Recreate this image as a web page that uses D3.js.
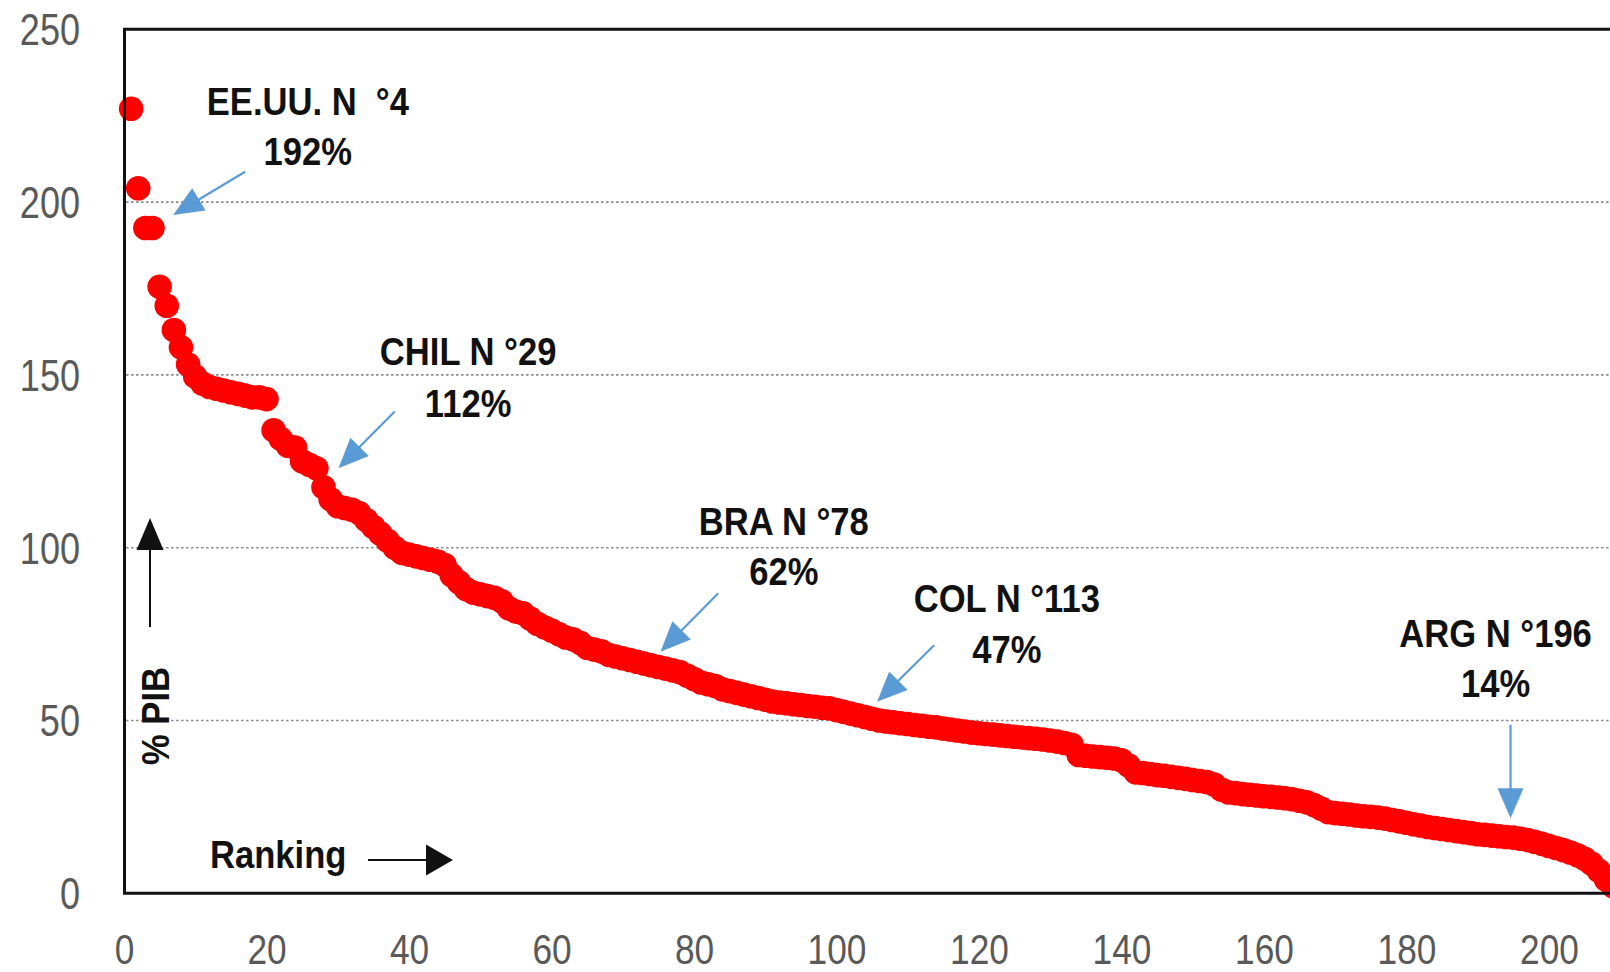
<!DOCTYPE html>
<html>
<head>
<meta charset="utf-8">
<script src="https://cdnjs.cloudflare.com/ajax/libs/d3/7.8.5/d3.min.js"></script>
<style>
  html, body { margin: 0; padding: 0; background: #fff; }
  svg { display: block; }
</style>
</head>
<body>
<svg id="chart" width="1610" height="972"></svg>
<script>
// ---- data ----
const debtValues = [
  227, 204, 192.5, 192.5, 175.5, 170, 163, 158, 153, 149.5,
  147.5, 146.5, 146, 145.5, 145, 144.5, 144, 143.5, 143.5, 143,
  134, 131.5, 129.5, 129, 125, 124, 123, 117.5, 114, 112,
  111.5, 111, 110, 108, 106, 104, 102, 100, 98.5, 98,
  97.5, 97, 96.5, 96, 95, 92, 90, 88, 87, 86.5,
  86, 85.5, 84.5, 82.5, 81.5, 81, 79.5, 78, 77, 76,
  75, 74, 73.5, 72.5, 71, 70.5, 70, 69, 68.5, 68,
  67.5, 67, 66.5, 66, 65.5, 65, 64.5, 64, 63, 62,
  61, 60.5, 60, 59, 58.5, 58, 57.5, 57, 56.5, 56,
  55.5, 55.2, 55, 54.7, 54.5, 54.2, 54, 53.7, 53.5, 53,
  52.5, 52, 51.5, 51, 50.5, 50, 49.7, 49.5, 49.2, 49,
  48.7, 48.5, 48.2, 48, 47.7, 47.4, 47.1, 46.8, 46.5, 46.3,
  46.1, 45.9, 45.7, 45.5, 45.3, 45.1, 44.9, 44.7, 44.5, 44.2,
  43.9, 43.5, 43, 40, 39.8, 39.6, 39.4, 39.2, 39, 38.5,
  37, 35, 34.8, 34.5, 34.2, 34, 33.7, 33.4, 33.1, 32.8,
  32.5, 32.2, 31.5, 30, 29.2, 29, 28.7, 28.5, 28.3, 28.1,
  27.9, 27.7, 27.5, 27.2, 26.8, 26.3, 25.5, 24.5, 23.5, 23.2,
  23, 22.8, 22.5, 22.3, 22.1, 21.9, 21.6, 21.2, 20.8, 20.4,
  20, 19.6, 19.2, 18.9, 18.6, 18.3, 18, 17.7, 17.4, 17.1,
  16.9, 16.7, 16.5, 16.3, 16.1, 15.8, 15.4, 14.9, 14.3, 13.7,
  13.1, 12.5, 11.8, 11, 10, 8.5, 6.5, 4, 2, 0.5
];

const xTickValues = [0, 20, 40, 60, 80, 100, 120, 140, 160, 180, 200];
const yTickValues = [0, 50, 100, 150, 200, 250];
const gridValues = [50, 100, 150, 200];

// annotations: label, percent text, text anchor (rank, value), arrow start and tip (rank, value)
const annTitles = ["EE.UU. N  \u00B04", "CHIL N \u00B029", "BRA N \u00B078", "COL N \u00B0113", "ARG N \u00B0196"];
const annPercents = ["192%", "112%", "62%", "47%", "14%"];
const annTextRank = [25.8, 48.3, 92.6, 123.9, 192.5];
const annTitleValue = [225.2, 152.9, 103.7, 81.5, 71.4];
const annPctValue = [210.7, 137.9, 89.2, 66.6, 56.9];
const annArrowFrom = [[17.0, 208.8], [38.0, 139.4], [83.4, 86.8], [113.7, 71.8], [194.6, 48.7]];
const annArrowTip = [[6.9, 196.3], [30.1, 123.0], [75.3, 69.9], [105.7, 55.4], [194.6, 21.7]];

// ---- layout ----
const svg = d3.select("#chart");
const W = 1610, H = 972;
const plotLeft = 124, plotTop = 29.3, plotBottom = 893.3;

const x = d3.scaleLinear().domain([0, 200]).range([plotLeft, plotLeft + 1425]);
const y = d3.scaleLinear().domain([0, 250]).range([plotBottom, plotTop]);

svg.append("rect").attr("width", W).attr("height", H).attr("fill", "#fff");

// gridlines
svg.append("g").selectAll("line").data(gridValues).join("line")
  .attr("x1", plotLeft + 2).attr("x2", W + 10)
  .attr("y1", d => y(d)).attr("y2", d => y(d))
  .attr("stroke", "#8f8f8f").attr("stroke-width", 1.6)
  .attr("stroke-dasharray", "2.6,2.4");

// points
svg.append("g").selectAll("circle").data(debtValues).join("circle")
  .attr("cx", (d, i) => x(i + 1))
  .attr("cy", d => y(d))
  .attr("r", 12.3)
  .attr("fill", "#ff0000");

// frame (top, left, bottom)
svg.append("path")
  .attr("d", `M${W + 10},${plotTop} H${plotLeft + 0.5} V${plotBottom} H${W + 10}`)
  .attr("fill", "none").attr("stroke", "#111").attr("stroke-width", 3);

// axes (narrow look: Liberation Sans compressed horizontally)
const tickFont = "'Liberation Sans', Arial, sans-serif";
const yAxis = svg.append("g").attr("transform", "translate(80,0)")
  .call(d3.axisLeft(y).tickValues(yTickValues).tickSize(0).tickPadding(0));
yAxis.select(".domain").remove();
yAxis.selectAll("text").attr("font-family", tickFont).attr("font-size", 44)
  .attr("fill", "#595959").attr("dy", "0.35em").attr("transform", "scale(0.82,1)");

const xAxis = svg.append("g").attr("transform", `translate(0,${plotBottom})`)
  .call(d3.axisBottom(x).tickValues(xTickValues).tickSize(0).tickPadding(41));
xAxis.select(".domain").remove();
xAxis.selectAll("text").attr("font-family", tickFont).attr("font-size", 42)
  .attr("fill", "#595959").attr("transform", "scale(0.84,1)");

// arrow helper
function arrow(x1, y1, x2, y2, color, len, half, lw) {
  const dx = x2 - x1, dy = y2 - y1;
  const L = Math.hypot(dx, dy);
  const ux = dx / L, uy = dy / L;
  const bx = x2 - ux * len, by = y2 - uy * len;
  svg.append("line").attr("x1", x1).attr("y1", y1).attr("x2", bx + ux * 2).attr("y2", by + uy * 2)
    .attr("stroke", color).attr("stroke-width", lw);
  svg.append("path")
    .attr("d", `M${x2},${y2} L${bx - uy * half},${by + ux * half} L${bx + uy * half},${by - ux * half} Z`)
    .attr("fill", color);
}

const boldFont = "'Liberation Sans', Arial, sans-serif";
function boldText(px, py, txt, anchor) {
  return svg.append("text")
    .attr("transform", `translate(${px},${py}) scale(0.91,1)`)
    .attr("text-anchor", anchor).attr("font-family", boldFont).attr("font-weight", "bold")
    .attr("font-size", 38).attr("fill", "#111").style("white-space", "pre").text(txt);
}

// annotations
annTitles.forEach((t, i) => {
  boldText(x(annTextRank[i]), y(annTitleValue[i]), t, "middle");
  boldText(x(annTextRank[i]), y(annPctValue[i]), annPercents[i], "middle");
  const f = annArrowFrom[i], tp = annArrowTip[i];
  arrow(x(f[0]), y(f[1]), x(tp[0]), y(tp[1]), "#5b9bd5", 30, 13, 2.2);
});

// axis titles
svg.append("text")
  .attr("transform", "translate(169,716) rotate(-90) scale(0.91,1)")
  .attr("text-anchor", "middle").attr("font-family", boldFont).attr("font-weight", "bold")
  .attr("font-size", 38).attr("fill", "#111").text("% PIB");
arrow(150, 627, 150, 518, "#111", 32, 13.5, 2);

boldText(210, 868, "Ranking", "start");
arrow(368, 860, 453, 860, "#111", 27, 15.5, 2);
</script>
</body>
</html>
